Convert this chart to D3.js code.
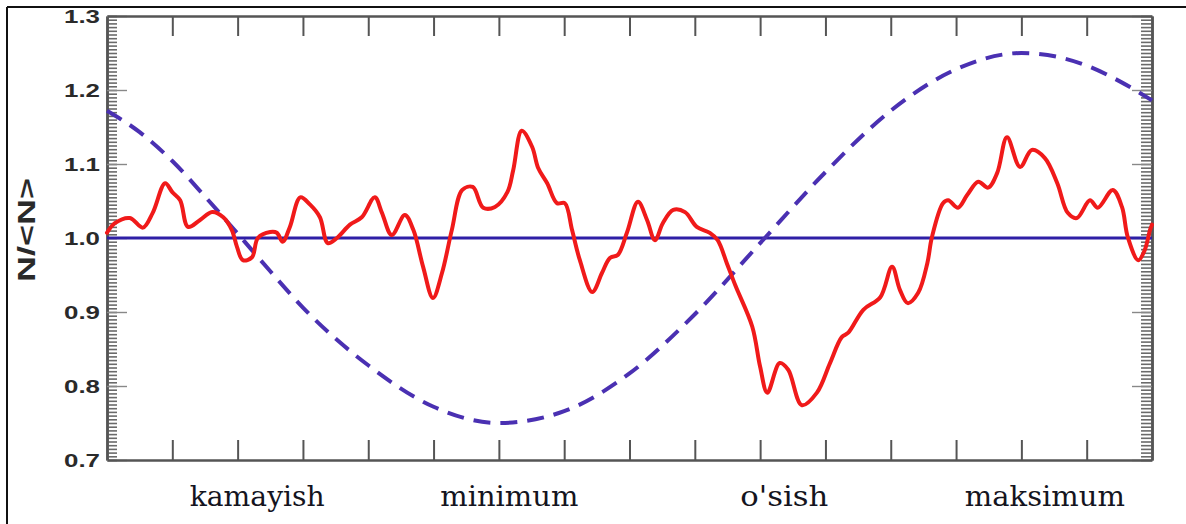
<!DOCTYPE html>
<html>
<head>
<meta charset="utf-8">
<script src="https://cdn.jsdelivr.net/npm/d3@7"></script>
<style>
  html, body { margin: 0; padding: 0; background: #ffffff; }
  svg { display: block; }
</style>
</head>
<body>
<svg id="chart" width="1186" height="524"></svg>
<script>
// ---- data (x in arbitrary phase units 0..16, y = N/<N>) ----
const redX = [0, 0.12, 0.35, 0.55, 0.70, 0.89, 1.00, 1.12, 1.24, 1.42, 1.61, 1.78, 1.91, 1.99, 2.08, 2.22, 2.31, 2.50, 2.60, 2.69,
  2.80, 2.96, 3.11, 3.26, 3.38, 3.52, 3.72, 3.90, 4.10, 4.21, 4.36, 4.56, 4.69, 4.84, 4.99, 5.13, 5.28, 5.44, 5.60, 5.76,
  5.94, 6.13, 6.22, 6.35, 6.51, 6.60, 6.74, 6.89, 7.01, 7.12, 7.24, 7.43, 7.58, 7.70, 7.82, 7.96, 8.13, 8.27, 8.39, 8.51,
  8.67, 8.85, 9.03, 9.23, 9.35, 9.49, 9.62, 9.88, 10.00, 10.11, 10.30, 10.43, 10.64, 10.87, 11.07, 11.25, 11.35, 11.58, 11.84, 12.02,
  12.14, 12.26, 12.42, 12.56, 12.63, 12.80, 12.88, 13.03, 13.17, 13.34, 13.49, 13.63, 13.78, 13.98, 14.16, 14.36, 14.55, 14.71, 14.85, 15.05,
  15.17, 15.40, 15.54, 15.63, 15.79, 15.89, 15.97, 16.00];
const redY = [1.007, 1.020, 1.027, 1.014, 1.034, 1.074, 1.062, 1.051, 1.015, 1.024, 1.035, 1.028, 1.011, 0.988, 0.970, 0.974, 1.000, 1.008, 1.007, 0.995,
  1.015, 1.055, 1.045, 1.028, 0.993, 1.000, 1.018, 1.028, 1.055, 1.034, 1.004, 1.031, 1.011, 0.961, 0.919, 0.953, 1.011, 1.065, 1.069, 1.041,
  1.042, 1.062, 1.092, 1.145, 1.123, 1.095, 1.074, 1.047, 1.047, 1.011, 0.970, 0.927, 0.953, 0.973, 0.977, 1.007, 1.049, 1.024, 0.997, 1.020,
  1.038, 1.035, 1.015, 1.007, 0.997, 0.966, 0.936, 0.880, 0.826, 0.791, 0.831, 0.822, 0.774, 0.791, 0.831, 0.866, 0.872, 0.903, 0.920, 0.961,
  0.930, 0.912, 0.926, 0.966, 1.001, 1.047, 1.051, 1.041, 1.058, 1.076, 1.068, 1.088, 1.136, 1.096, 1.119, 1.108, 1.074, 1.034, 1.027, 1.051,
  1.041, 1.065, 1.042, 1.001, 0.970, 0.984, 1.011, 1.018];

const cycleX = [0, 0.5, 1, 1.5, 2, 2.5, 3, 4, 5, 6, 7, 8, 9, 10, 11, 12, 13, 14, 15, 15.5, 16];
const cycleY = [1.172, 1.143, 1.104, 1.056, 1.006, 0.955, 0.906, 0.828, 0.772, 0.750, 0.766, 0.817, 0.897, 0.993, 1.089, 1.172, 1.228, 1.250, 1.233, 1.212, 1.186];

const meanX = [0, 16];
const meanY = [1.0, 1.0];

const yMajorTicks = [0.7, 0.8, 0.9, 1.0, 1.1, 1.2, 1.3];
const xMajorTicks = [1, 2, 3, 4, 5, 6, 7, 8, 9, 10, 11, 12, 13, 14, 15];

const phaseLabels = ["kamayish", "minimum", "o'sish", "maksimum"];
const phaseLabelX = [2.30, 6.16, 10.37, 14.36];
const yLabel = "N/<N>";

// ---- drawing ----
const svg = d3.select("#chart");
const W = 1186, H = 524;
const plot = {left: 107, right: 1152, top: 16, bottom: 460};

const x = d3.scaleLinear().domain([0, 16]).range([plot.left, plot.right]);
const y = d3.scaleLinear().domain([0.7, 1.3]).range([plot.bottom, plot.top]);

// outer frame (top + left edges)
svg.append("line").attr("x1", 7).attr("y1", 7).attr("x2", W).attr("y2", 7)
  .attr("stroke", "#111").attr("stroke-width", 2);
svg.append("line").attr("x1", 7).attr("y1", 7).attr("x2", 7).attr("y2", H)
  .attr("stroke", "#111").attr("stroke-width", 2);

const yMinorTicks = d3.range(0, 121).map(i => +(0.7 + i * 0.005).toFixed(3));

function styleAxis(g, color, width) {
  g.select(".domain").attr("stroke", "#555").attr("stroke-width", 2.5);
  g.selectAll(".tick line").attr("stroke", color).attr("stroke-width", width);
}

// minor y ticks, left and right
svg.append("g").attr("transform", `translate(${plot.left},0)`)
  .call(d3.axisLeft(y).tickValues(yMinorTicks).tickSize(-10).tickSizeOuter(0).tickFormat(""))
  .call(g => styleAxis(g, "#6a6a6a", 1.6));
svg.append("g").attr("transform", `translate(${plot.right},0)`)
  .call(d3.axisRight(y).tickValues(yMinorTicks).tickSize(-11).tickSizeOuter(0).tickFormat(""))
  .call(g => styleAxis(g, "#6a6a6a", 1.6));

// major y ticks with labels
const yAxisL = svg.append("g").attr("transform", `translate(${plot.left},0)`)
  .call(d3.axisLeft(y).tickValues(yMajorTicks).tickSize(-20).tickSizeOuter(0).tickPadding(7).tickFormat(d3.format(".1f")))
  .call(g => styleAxis(g, "#888", 1.4));
yAxisL.attr("font-family", "Liberation Sans, Arial, sans-serif");
yAxisL.selectAll(".tick text")
  .attr("font-weight", "bold")
  .attr("font-size", 19)
  .attr("fill", "#2a2a2a")
  .attr("textLength", 36)
  .attr("lengthAdjust", "spacingAndGlyphs");
svg.append("g").attr("transform", `translate(${plot.right},0)`)
  .call(d3.axisRight(y).tickValues(yMajorTicks).tickSize(-20).tickSizeOuter(0).tickFormat(""))
  .call(g => styleAxis(g, "#888", 1.4));

// x ticks, bottom and top
svg.append("g").attr("transform", `translate(0,${plot.bottom})`)
  .call(d3.axisBottom(x).tickValues(xMajorTicks).tickSize(-20).tickSizeOuter(0).tickFormat(""))
  .call(g => styleAxis(g, "#555", 2));
svg.append("g").attr("transform", `translate(0,${plot.top})`)
  .call(d3.axisTop(x).tickValues(xMajorTicks).tickSize(-20).tickSizeOuter(0).tickFormat(""))
  .call(g => styleAxis(g, "#555", 2));

// lines
const meanData = meanX.map((d, i) => [d, meanY[i]]);
const cycleData = cycleX.map((d, i) => [d, cycleY[i]]);
const redData = redX.map((d, i) => [d, redY[i]]);

svg.append("path").datum(meanData)
  .attr("d", d3.line().x(d => x(d[0])).y(d => y(d[1])))
  .attr("fill", "none").attr("stroke", "#2e1fa6").attr("stroke-width", 2.8);

svg.append("path").datum(cycleData)
  .attr("d", d3.line().curve(d3.curveMonotoneX).x(d => x(d[0])).y(d => y(d[1])))
  .attr("fill", "none").attr("stroke", "#4a30b2").attr("stroke-width", 4)
  .attr("stroke-dasharray", "17,10");

svg.append("path").datum(redData)
  .attr("d", d3.line().curve(d3.curveCatmullRom.alpha(0.5)).x(d => x(d[0])).y(d => y(d[1])))
  .attr("fill", "none").attr("stroke", "#f01a1a").attr("stroke-width", 4)
  .attr("stroke-linejoin", "round").attr("stroke-linecap", "round");

// y label
svg.append("text")
  .attr("transform", `translate(35,230) rotate(-90)`)
  .attr("text-anchor", "middle")
  .attr("font-family", "Liberation Sans, Arial, sans-serif")
  .attr("font-weight", "bold")
  .attr("font-size", 24)
  .attr("fill", "#2a2a2a")
  .attr("textLength", 104)
  .attr("lengthAdjust", "spacingAndGlyphs")
  .text(yLabel);

// phase labels
const phaseWidths = [135, 138, 88, 160];
svg.selectAll("text.phase").data(phaseLabels).enter().append("text")
  .attr("class", "phase")
  .attr("x", (d, i) => x(phaseLabelX[i]))
  .attr("y", 506)
  .attr("text-anchor", "middle")
  .attr("font-family", "DejaVu Serif, Liberation Serif, serif")
  .attr("font-size", 27)
  .attr("fill", "#141420")
  .attr("textLength", (d, i) => phaseWidths[i])
  .attr("lengthAdjust", "spacingAndGlyphs")
  .text(d => d);
</script>
</body>
</html>
